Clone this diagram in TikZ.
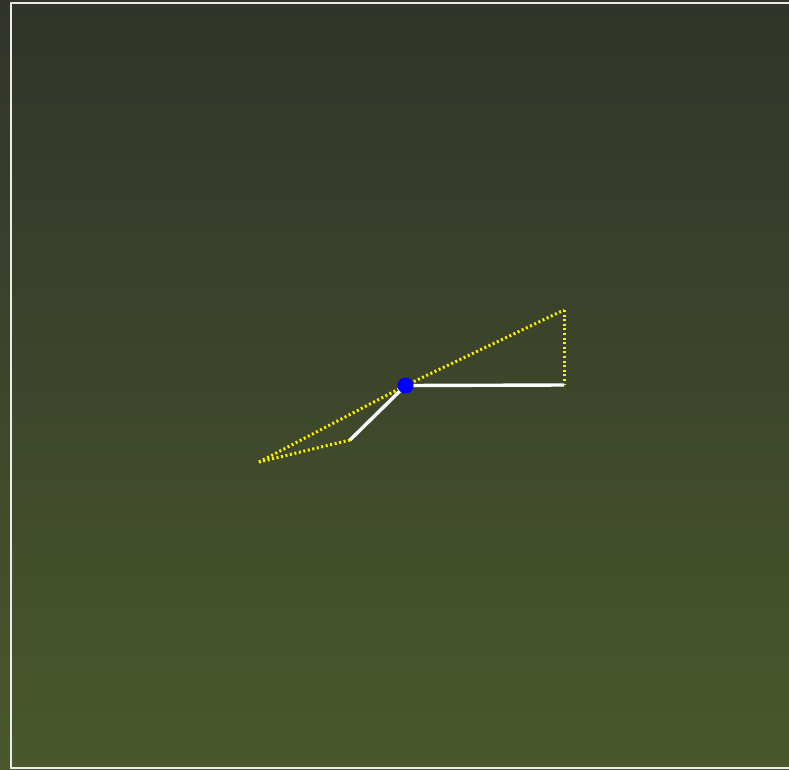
\documentclass[tikz,border=0pt]{standalone}
\usetikzlibrary{calc}
\definecolor{bgtop}{RGB}{48,52,42}
\definecolor{bgbot}{RGB}{74,88,44}
\tikzset{
  whiteline/.style={draw=white, line width=3.4pt},
  yellowdot/.style={draw=yellow, line width=3pt, dash pattern=on 2pt off 2.6pt},
  frame/.style={draw=white!92!black, line width=2pt},
  pivot/.style={circle, fill=blue, inner sep=0pt, minimum size=16pt}
}
\begin{document}
\begin{tikzpicture}[x=1pt,y=-1pt]
\useasboundingbox (0,0) rectangle (789,769);
\shade[top color=bgtop, bottom color=bgbot] (0,0) rectangle (789,769);
\draw[frame] (11,3) rectangle (800,767.5);
\coordinate (R) at (564,385);
\coordinate (T) at (564,310);
\coordinate (L) at (350,440);
\coordinate (F) at (259,462);
\coordinate (C) at (405.5,385.5);
\draw[yellowdot] (C) -- (T);
\draw[yellowdot] (T) -- (R);
\draw[yellowdot] (L) -- (F);
\draw[yellowdot] (F) -- (C);
\draw[whiteline] (C) -- (R);
\draw[whiteline] (C) -- (L);
\node[pivot] (P) at (C) {};
\end{tikzpicture}
\end{document}
